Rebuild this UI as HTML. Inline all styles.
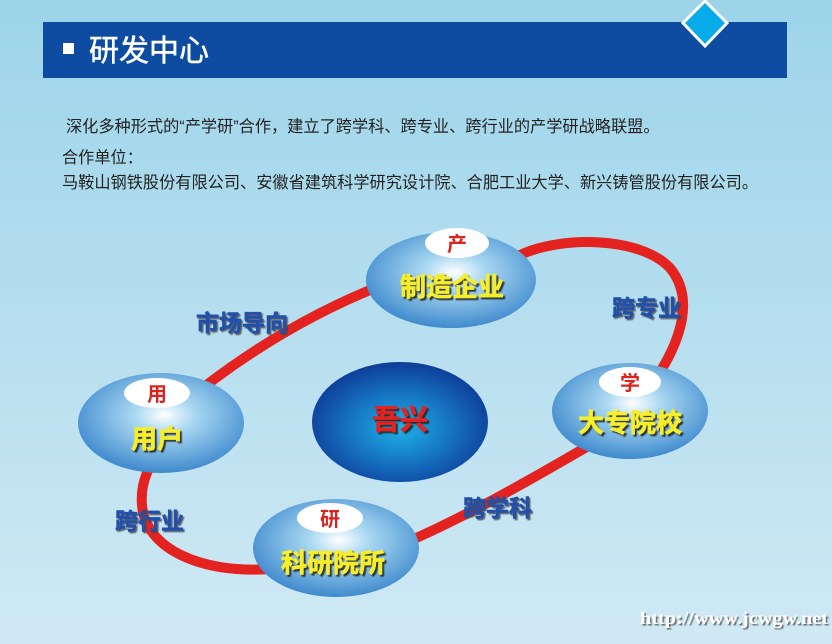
<!DOCTYPE html>
<html><head><meta charset="utf-8"><style>
body{margin:0;width:832px;height:644px;overflow:hidden;font-family:"Liberation Sans","Noto Sans CJK SC",sans-serif}
</style></head><body>
<svg width="832" height="644" viewBox="0 0 832 644" xmlns="http://www.w3.org/2000/svg" style="display:block">
<defs>
<linearGradient id="bg" x1="0" y1="0" x2="0" y2="1">
<stop offset="0" stop-color="#9dd4ea"/><stop offset="1" stop-color="#cfe9f4"/></linearGradient>
<radialGradient id="nb" cx="0.52" cy="0.42" r="0.6">
<stop offset="0" stop-color="#ffffff"/><stop offset="0.3" stop-color="#a9d8f2"/><stop offset="1" stop-color="#3a86cc"/></radialGradient>
<radialGradient id="cb" cx="0.5" cy="0.55" r="0.55">
<stop offset="0" stop-color="#1db3e6"/><stop offset="0.55" stop-color="#1670c0"/><stop offset="1" stop-color="#0d3d98"/></radialGradient>
<filter id="sh" x="-10%" y="-10%" width="130%" height="130%"><feDropShadow dx="2" dy="2" stdDeviation="0.6" flood-color="#222" flood-opacity="0.85"/></filter>
<filter id="sh2" x="-10%" y="-10%" width="130%" height="130%"><feDropShadow dx="1.5" dy="1.5" stdDeviation="0.6" flood-color="#444" flood-opacity="0.8"/></filter>
</defs>
<rect width="832" height="644" fill="url(#bg)"/>
<rect x="43" y="22" width="744" height="56" fill="#0e4ca2"/>
<rect x="63" y="43" width="11" height="11" fill="#fff"/>
<text x="89" y="61" font-size="30" fill="#fff" stroke="#fff" stroke-width="0.5">研发中心</text>
<polygon points="705,1 727,23 705,46 683,23" fill="#08abe9" stroke="#fff" stroke-width="3"/>
<g font-size="16.2" fill="#222">
<text x="66" y="132">深化多种形式的“产学研”合作，建立了跨学科、跨专业、跨行业的产学研战略联盟。</text>
<text x="62" y="163">合作单位：</text>
<text x="62" y="188">马鞍山钢铁股份有限公司、安徽省建筑科学研究设计院、合肥工业大学、新兴铸管股份有限公司。</text>
</g>
<path d="M200 390 Q290 320 390 282 L520 255 C560 236 640 236 670 268 C695 298 680 340 660 372 L590 445 C530 480 460 520 400 545 L270 569 C200 574 145 548 142 505 C140 482 150 462 162 450 Z" fill="none" stroke="#e42320" stroke-width="10"/>
<g font-size="23" font-weight="bold" fill="#2250a8" stroke="#2250a8" stroke-width="0.5" filter="url(#sh2)">
<text x="196" y="331">市场导向</text>
<text x="612" y="316">跨专业</text>
<text x="463" y="516">跨学科</text>
<text x="115" y="529">跨行业</text>
</g>
<ellipse cx="451" cy="280" rx="85" ry="48" fill="url(#nb)"/>
<ellipse cx="630" cy="411" rx="78" ry="48" fill="url(#nb)"/>
<ellipse cx="161" cy="423" rx="83" ry="50" fill="url(#nb)"/>
<ellipse cx="336" cy="548" rx="83" ry="49" fill="url(#nb)"/>
<ellipse cx="400" cy="422" rx="88" ry="60" fill="url(#cb)"/>
<g fill="#fff">
<ellipse cx="457" cy="243" rx="32" ry="15"/>
<ellipse cx="630" cy="382" rx="31" ry="15"/>
<ellipse cx="157" cy="393" rx="33" ry="15"/>
<ellipse cx="330" cy="518" rx="33" ry="15"/>
</g>
<g font-size="20" fill="#d9231f" text-anchor="middle" font-weight="bold">
<text x="457" y="251">产</text>
<text x="630" y="390">学</text>
<text x="157" y="401">用</text>
<text x="330" y="526">研</text>
</g>
<g font-size="26" font-weight="bold" fill="#f6ee2a" stroke="#f6ee2a" stroke-width="0.6" text-anchor="middle" filter="url(#sh)">
<text x="452" y="296">制造企业</text>
<text x="630" y="432">大专院校</text>
<text x="157" y="448">用户</text>
<text x="333" y="572">科研院所</text>
</g>
<text x="400" y="429" font-size="28" font-weight="bold" fill="#e42320" stroke="#e42320" stroke-width="0.6" text-anchor="middle" filter="url(#sh)">吾兴</text>
<text x="640" y="624" font-size="18" font-weight="bold" fill="#fff" font-family="Liberation Serif,serif" textLength="188" lengthAdjust="spacingAndGlyphs" filter="url(#sh2)">http://www.jcwgw.net</text>
</svg>
</body></html>
